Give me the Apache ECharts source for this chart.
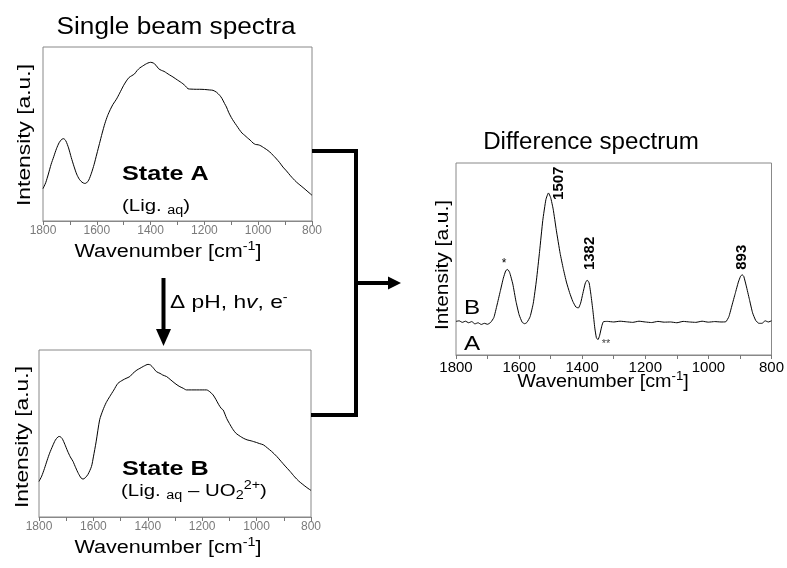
<!DOCTYPE html>
<html><head><meta charset="utf-8">
<script src="https://cdn.jsdelivr.net/npm/echarts@6/dist/echarts.min.js"></script>
<style>html,body{margin:0;padding:0;background:#fff}#c{width:787px;height:568px}</style>
</head><body><div id="c"></div>
<script>
// ---- data ----
const wnMin = 800, wnMax = 1800, wnStep = 200;

const stateAWn = [1800,1790,1780,1770,1760,1750,1740,1730,1723,1715,1705,1695,1685,1675,1665,1655,1645,1639,1630,1620,1610,1600,1590,1580,1570,1560,1550,1540,1527,1515,1500,1490,1480,1470,1460,1450,1440,1430,1420,1410,1400,1390,1380,1370,1360,1350,1340,1330,1317,1300,1290,1280,1270,1261,1250,1230,1218,1200,1180,1168,1155,1143,1135,1125,1118,1110,1100,1090,1081,1070,1060,1050,1040,1030,1019,1010,1000,990,980,970,957,945,935,920,908,895,880,870,858,845,830,815,800];
const stateAVal = [18.6,22,27,32.5,37,41.5,45,47,47.3,46,42,36.5,31.5,27,24,22.3,21.6,21.8,23.5,27.5,32.5,38.5,44.5,50.5,56,60.5,64,67,70,73.5,78,80.5,82.5,83.5,84.5,86.5,88,89,90,90.8,91.2,90.8,89.5,87.5,86.6,86,85,84,82.8,81,80,78.9,77.5,76,75.8,75.7,75.7,75.6,75.3,75.1,74,72.2,70.5,67.5,65.5,62.5,59.5,57,55,52.5,50.5,49.2,47.8,46.5,44.8,44,43.8,43.2,42.2,41.2,39.7,37.8,36.2,33.5,31,28.8,26,24.3,22.4,20.7,18.8,16.8,14.8];

const stateBWn = [1800,1790,1780,1770,1761,1750,1740,1730,1724,1715,1705,1695,1685,1675,1665,1655,1645,1638,1630,1620,1607,1600,1590,1577,1565,1553,1540,1525,1510,1491,1480,1466,1455,1440,1429,1415,1399,1390,1380,1368,1355,1345,1331,1315,1300,1285,1270,1258,1240,1220,1200,1184,1172,1160,1150,1140,1130,1123,1110,1100,1086,1075,1060,1049,1035,1020,1012,1000,990,975,960,945,926,910,895,877,860,845,830,815,800];
const stateBVal = [21.3,24.5,29,34,38.2,42.5,46,48,48.2,47,43.5,39.5,36,33.3,29.5,26,23.3,22.7,23.5,25.5,30.3,36,45,58.2,64,68.5,72.1,76,80,82.1,83,84.1,86,88,89,90.3,91.4,91,89.3,87,86,85,84.1,82,80,78.3,77.1,76.1,76.1,76.1,76.1,76.1,75,73.1,70.5,67.5,65,64.1,59,56,52.2,50,48.3,47.2,46.2,45.6,45.2,44.6,44,43.2,41.3,39.3,36.3,33.3,30.5,27.3,24,21.5,19.5,17.6,15.9];

const diffWn = [1800,1790,1780,1770,1760,1750,1740,1730,1720,1710,1700,1690,1680,1670,1660,1650,1642,1636,1630,1620,1610,1600,1590,1582,1575,1565,1555,1545,1535,1525,1515,1507,1500,1492,1482,1470,1460,1450,1440,1430,1420,1412,1405,1398,1390,1384,1378,1372,1366,1360,1355,1350,1345,1338,1333,1320,1300,1280,1260,1240,1220,1200,1180,1160,1140,1120,1100,1080,1060,1040,1020,1000,980,960,945,935,925,915,905,898,893,888,880,870,860,850,840,830,820,810,800];
const diffVal = [17.5,17.8,17.0,17.6,16.8,17.4,16.2,16.8,15.9,16.5,16.0,17.0,19.5,26,33,40,44,44.5,43,37,28,21,17,16.3,17,20,27,39,54,70,81,84.4,82,76,65,53,45,38,32.5,28,25,24.5,27,32,37.5,39,37.5,31,23,14,9,8,10,15,17.3,17.5,17.2,17.6,17.3,17.0,17.6,17.2,16.9,17.5,17.1,17.2,16.8,17.5,17.2,17.0,17.6,17.1,17.4,17.2,17.3,20,26,32,38,41,41.8,41,36,29,22,18,16.5,16.5,17.8,17.2,17.8];

const peakWn = [1507, 1382, 893];
const peakVal = [84.4, 39, 41.8];
const peakText = ['1507', '1382', '893'];

// ---- chart ----
const FONT = 'Liberation Sans, Arial, sans-serif';
const chart = echarts.init(document.getElementById('c'));

function pairs(xs, ys) { return xs.map((x, i) => [x, ys[i]]); }

function xAxisFor(gridIndex, labelSize, labelColor, margin) {
  return {
    gridIndex, type: 'value', min: wnMin, max: wnMax, interval: wnStep, inverse: true,
    axisLine: { show: true, lineStyle: { color: '#888', width: 1 } },
    axisTick: { show: true, inside: false, length: 4, lineStyle: { color: '#777' } },
    minorTick: { show: true, splitNumber: 2, length: 4, lineStyle: { color: '#777' } },
    splitLine: { show: false },
    axisLabel: { fontSize: labelSize, color: labelColor, fontFamily: FONT, margin: margin,
      formatter: v => String(v) }
  };
}
function yAxisFor(gridIndex) {
  return {
    gridIndex, type: 'value', min: 0, max: 100,
    axisLine: { show: false }, axisTick: { show: false }, axisLabel: { show: false }, splitLine: { show: false }
  };
}
const gridBox = { show: true, borderColor: '#888', borderWidth: 1, containLabel: false };

const lineSeries = (idx, data) => ({
  type: 'line', xAxisIndex: idx, yAxisIndex: idx, data, showSymbol: false, symbol: 'none',
  smooth: 0.25, lineStyle: { color: '#000', width: 1 }, silent: true, animation: false
});

chart.setOption({
  animation: false,
  backgroundColor: '#fff',
  grid: [
    Object.assign({ left: 43, top: 47, width: 269, height: 174 }, gridBox),
    Object.assign({ left: 39, top: 350, width: 272, height: 167 }, gridBox),
    Object.assign({ left: 456, top: 163, width: 317, height: 192 }, gridBox)
  ],
  xAxis: [xAxisFor(0, 12, '#7a7a7a', 4), xAxisFor(1, 12, '#7a7a7a', 4), xAxisFor(2, 15, '#000', 5)],
  yAxis: [yAxisFor(0), yAxisFor(1), yAxisFor(2)],
  series: [
    lineSeries(0, pairs(stateAWn, stateAVal)),
    lineSeries(1, pairs(stateBWn, stateBVal)),
    Object.assign(lineSeries(2, pairs(diffWn, diffVal)), { smooth: 0.15 })
  ]
});

// ---- annotations ----
const base = { fontFamily: FONT, fill: '#000' };
function txt(x, y, text, size, opts) {
  opts = opts || {};
  return {
    type: 'text', x, y, scaleX: opts.sx || 1, rotation: opts.rot || 0, silent: true,
    style: Object.assign({}, base, {
      text, fontSize: size, fontWeight: opts.bold ? 'bold' : 'normal',
      align: opts.align || 'center', verticalAlign: 'middle',
      lineHeight: opts.lh || size + 6, rich: opts.rich
    })
  };
}
const subsup = {
  sub: { fontFamily: FONT, fontSize: 12, verticalAlign: 'bottom', lineHeight: 12, fill: '#000' },
  sup: { fontFamily: FONT, fontSize: 12, verticalAlign: 'top', lineHeight: 12, fill: '#000' },
  it: { fontFamily: FONT, fontSize: 19, fontStyle: 'italic', fill: '#000' }
};
const wnLabel = 'Wavenumber [cm{sup|-1}]';

const g = [];
// titles
g.push(txt(176, 28, 'Single beam spectra', 23, { sx: 1.14 }));
g.push(txt(591, 143, 'Difference spectrum', 23, { sx: 1.05 }));
// x-axis names
g.push(txt(168, 252, wnLabel, 18, { sx: 1.2, rich: subsup, lh: 22 }));
g.push(txt(168, 548, wnLabel, 18, { sx: 1.2, rich: subsup, lh: 22 }));
g.push(txt(603, 382, wnLabel, 18, { sx: 1.1, rich: subsup, lh: 22 }));
// y-axis names
g.push(txt(25, 135, 'Intensity [a.u.]', 19, { rot: Math.PI / 2, sx: 1.2 }));
g.push(txt(23, 437, 'Intensity [a.u.]', 19, { rot: Math.PI / 2, sx: 1.2 }));
g.push(txt(443, 265, 'Intensity [a.u.]', 19, { rot: Math.PI / 2, sx: 1.1 }));
// state labels
g.push(txt(122, 174, 'State A', 21, { bold: true, align: 'left', sx: 1.2 }));
g.push(txt(122, 206, '(Lig. {sub|aq})', 17, { align: 'left', rich: subsup, lh: 22, sx: 1.2 }));
g.push(txt(122, 469, 'State B', 21, { bold: true, align: 'left', sx: 1.2 }));
g.push(txt(121, 491, '(Lig. {sub|aq} – UO{sub|2}{sup|2+})', 17, { align: 'left', rich: subsup, lh: 22, sx: 1.2 }));
// delta text
g.push(txt(170, 303, 'Δ pH, h{it|v}, e{sup|-}', 19, { align: 'left', rich: subsup, lh: 22, sx: 1.2 }));
// A / B letters in diff plot
g.push(txt(472, 308, 'B', 21, { sx: 1.15 }));
g.push(txt(472, 344, 'A', 21, { sx: 1.15 }));

// arrows
const lw = 4;
g.push({ type: 'polyline', silent: true, shape: { points: [[312, 151], [356, 151], [356, 415], [311, 415]] },
  style: { stroke: '#000', lineWidth: lw, fill: null, lineJoin: 'miter' } });
g.push({ type: 'line', silent: true, shape: { x1: 356, y1: 283, x2: 390, y2: 283 }, style: { stroke: '#000', lineWidth: lw } });
g.push({ type: 'polygon', silent: true, shape: { points: [[388, 276.5], [401, 283], [388, 289.5]] }, style: { fill: '#000' } });
g.push({ type: 'line', silent: true, shape: { x1: 163.5, y1: 278, x2: 163.5, y2: 332 }, style: { stroke: '#000', lineWidth: lw } });
g.push({ type: 'polygon', silent: true, shape: { points: [[156, 329], [171, 329], [163.5, 346]] }, style: { fill: '#000' } });

// peak labels from the diff axis scales
const peakOffsets = [[10, 7], [2, -10], [0, -5]];
peakWn.forEach((w, i) => {
  const p = chart.convertToPixel({ gridIndex: 2 }, [w, peakVal[i]]);
  const o = peakOffsets[i];
  g.push({ type: 'text', x: p[0] + o[0], y: p[1] + o[1], rotation: Math.PI / 2, silent: true,
    style: Object.assign({}, base, { text: peakText[i], fontSize: 15, fontWeight: 'bold', align: 'left', verticalAlign: 'middle' }) });
});
// * and ** markers
const starP = chart.convertToPixel({ gridIndex: 2 }, [1638, 44.5]);
g.push({ type: 'text', x: starP[0] - 3, y: starP[1] - 6, silent: true,
  style: Object.assign({}, base, { text: '*', fontSize: 12, align: 'center', verticalAlign: 'middle' }) });
const dstarP = chart.convertToPixel({ gridIndex: 2 }, [1350, 8]);
g.push({ type: 'text', x: dstarP[0] + 8, y: dstarP[1] + 4, silent: true,
  style: Object.assign({}, base, { text: '**', fontSize: 11, align: 'center', verticalAlign: 'middle', fill: '#444' }) });

chart.setOption({ graphic: g });
</script>
</body></html>
